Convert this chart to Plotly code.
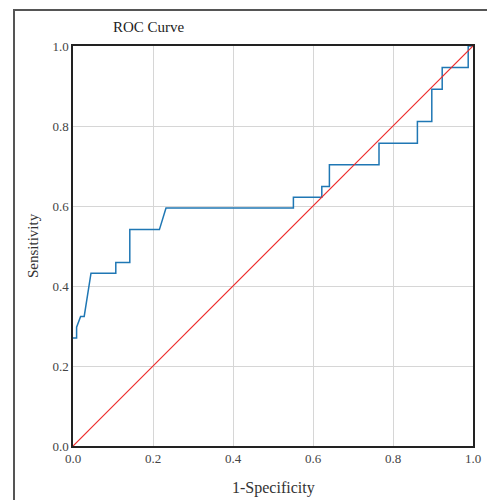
import plotly.graph_objects as go

fpr = [0, 0.009, 0.009, 0.019, 0.028, 0.045, 0.107, 0.107, 0.142, 0.142, 0.216, 0.2325,
       0.551, 0.551, 0.622, 0.622, 0.641, 0.641, 0.765, 0.765, 0.861, 0.861, 0.897, 0.897,
       0.923, 0.923, 0.988, 0.988, 1.0]
tpr = [0.270, 0.270, 0.297, 0.324, 0.324, 0.432, 0.432, 0.459, 0.459, 0.541, 0.541, 0.595,
       0.595, 0.622, 0.622, 0.649, 0.649, 0.703, 0.703, 0.757, 0.757, 0.811, 0.811, 0.892,
       0.892, 0.946, 0.946, 1.0, 1.0]
ref_x = [0, 1]
ref_y = [0, 1]
ticks = [0, 0.2, 0.4, 0.6, 0.8, 1.0]
tick_labels = ["0.0", "0.2", "0.4", "0.6", "0.8", "1.0"]

FONT = "Liberation Serif, Times New Roman, serif"

fig = go.Figure()
fig.add_trace(go.Scatter(x=fpr, y=tpr, mode="lines",
                         line=dict(color="#1f77b4", width=1.5), showlegend=False))
fig.add_trace(go.Scatter(x=ref_x, y=ref_y, mode="lines",
                         line=dict(color="#ee2a2a", width=1.2), showlegend=False))

axis_common = dict(range=[0, 1], tickvals=ticks, ticktext=tick_labels,
                   showgrid=True, gridcolor="#d6d6d6", gridwidth=1,
                   showline=True, linecolor="#222", linewidth=1.5, mirror=True,
                   zeroline=False, ticks="", automargin=False,
                   tickfont=dict(family=FONT, size=13, color="#444"))

fig.update_xaxes(**axis_common)
fig.update_yaxes(**axis_common)

fig.add_shape(type="rect", xref="paper", yref="paper", x0=-0.1475, x1=1.2, y0=-0.3, y1=1.09,
              line=dict(color="#555", width=2), fillcolor="rgba(0,0,0,0)", layer="below")

fig.add_annotation(text="ROC Curve", xref="paper", yref="paper", x=0.19, y=1.0475,
                   xanchor="center", yanchor="middle", showarrow=False,
                   font=dict(family=FONT, size=15, color="#222"))
fig.add_annotation(text="1-Specificity", xref="paper", yref="paper", x=0.5, y=-0.105,
                   xanchor="center", yanchor="middle", showarrow=False,
                   font=dict(family=FONT, size=16, color="#333"))
fig.add_annotation(text="Sensitivity", xref="paper", yref="paper", x=-0.1, y=0.5,
                   xanchor="center", yanchor="middle", showarrow=False, textangle=-90,
                   font=dict(family=FONT, size=15, color="#333"))

fig.update_layout(width=487, height=500, margin=dict(l=73, r=14, t=46, b=54),
                  plot_bgcolor="white", paper_bgcolor="white")

fig.write_html("out.html", config={"displayModeBar": False},
               post_script="document.body.style.margin='0';document.body.style.overflow='hidden';")
